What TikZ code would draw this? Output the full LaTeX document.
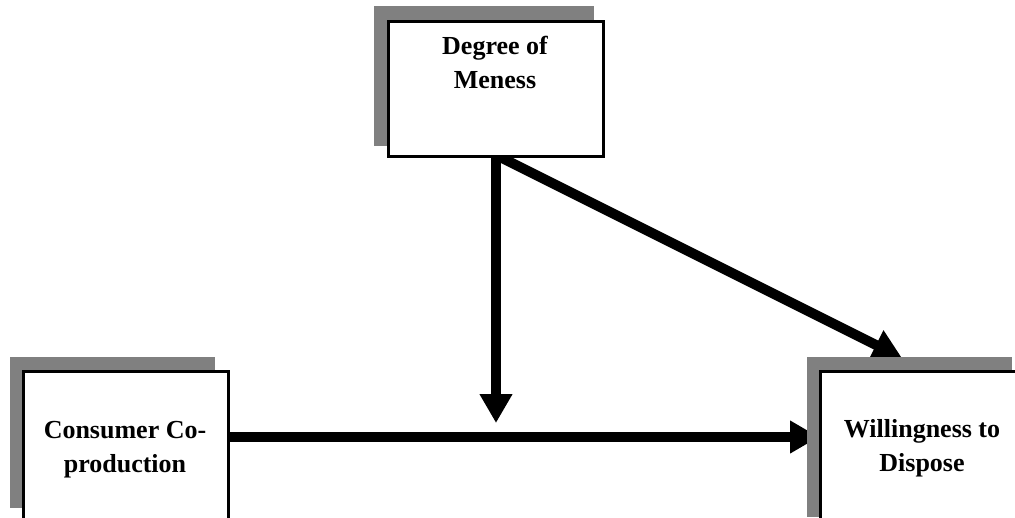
\documentclass[tikz,border=0pt]{standalone}
\usepackage{fontspec}
\setmainfont{Liberation Serif}
\usetikzlibrary{arrows.meta,calc}
\definecolor{shadowgray}{RGB}{128,128,128}
\tikzset{
  x=1pt, y=-1pt,
  box/.style={draw=black, line width=2.6pt, fill=white, inner sep=0pt, anchor=north west},
  shade/.style={fill=shadowgray, draw=none, inner sep=0pt, anchor=north west},
  lbl/.style={font=\fontsize{26}{34}\selectfont\bfseries, align=center, anchor=base, inner sep=0pt},
  bigarrow/.style={line width=10pt, -{Triangle[width=31pt,length=29pt]}}
}
\begin{document}
\begin{tikzpicture}
\useasboundingbox (0,0) rectangle (1015,517);
\clip (0,0) rectangle (1015,517);
% arrows (drawn under the shadows)
\coordinate (hs) at (227,437);
\coordinate (he) at (819,437);
\coordinate (vs) at (496,155);
\coordinate (ve) at (496,423);
\coordinate (de) at (902,358);
\draw[bigarrow] (hs) -- (he);
\draw[bigarrow] (vs) -- (ve);
\draw[bigarrow] (vs) -- (de);
% shadows
\node[shade, minimum width=220pt, minimum height=140pt] (tops) at (374,6) {};
\node[shade, minimum width=205pt, minimum height=151pt] (ccs) at (10,357) {};
\node[shade, minimum width=205pt, minimum height=160pt] (wds) at (807,357) {};
% boxes
\node[box, minimum width=215pt, minimum height=135pt] (dm) at (387,20) {};
\node[box, minimum width=205pt, minimum height=170pt] (cc) at (22,370) {};
\node[box, minimum width=220pt, minimum height=170pt] (wd) at (819,370) {};
% labels (base = baseline of the last line)
\node[lbl] (dmt) at (495,88) {Degree of\\Meness};
\node[lbl] (cct) at (125,472) {Consumer Co-\\production};
\node[lbl] (wdt) at (922,471) {Willingness to\\Dispose};
\end{tikzpicture}
\end{document}
